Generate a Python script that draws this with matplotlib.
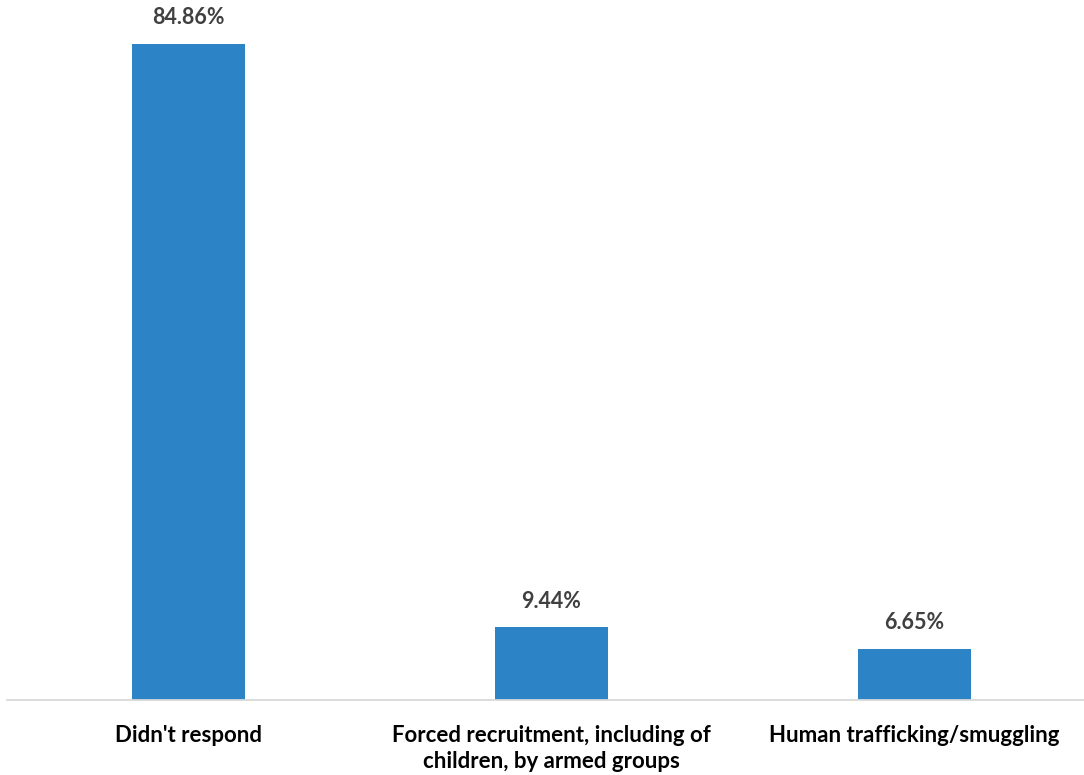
import matplotlib.pyplot as plt

categories = ["Didn't respond", "Forced recruitment, including of\nchildren, by armed groups", "Human trafficking/smuggling"]
values = [84.86, 9.44, 6.65]
labels = ["84.86%", "9.44%", "6.65%"]

plt.rcParams['font.family'] = ['Lato', 'DejaVu Sans']

fig = plt.figure(figsize=(10.84, 7.75), dpi=100)
ax = fig.add_axes([7 / 1084, 75 / 775, 1077 / 1084, 696 / 775])

x = range(len(categories))
bars = ax.bar(x, values, width=0.314, color='#2C83C6')
for b, lab in zip(bars, labels):
    ax.text(b.get_x() + b.get_width() / 2, b.get_height() + 2.0, lab,
            ha='center', va='bottom', fontsize=15.5, fontweight='bold', color='#404040')

ax.set_xlim(-0.5, -0.5 + 1077 / 363)
ax.set_ylim(0, 90)
ax.set_xticks(list(x))
ax.set_xticklabels(categories, fontsize=16, fontweight='bold', color='black', linespacing=1.3)
ax.tick_params(axis='x', length=0, pad=18)
ax.set_yticks([])
for s in ['top', 'right', 'left']:
    ax.spines[s].set_visible(False)
ax.spines['bottom'].set_color('#D9D9D9')
ax.spines['bottom'].set_linewidth(1.3)

fig.savefig('out.png', dpi=100)
